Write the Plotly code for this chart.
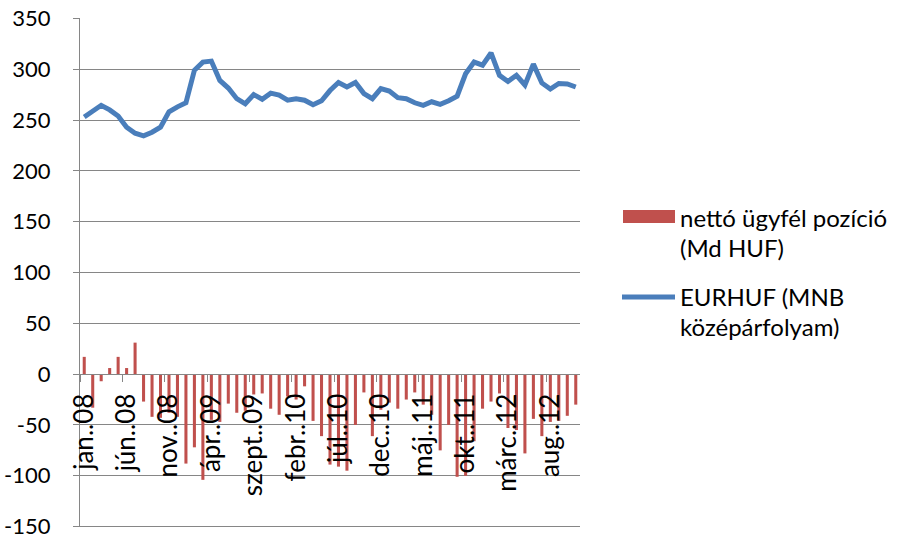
import plotly.graph_objects as go

# ---- data ----
month_abbr = ["jan.", "febr.", "márc.", "ápr.", "máj.", "jún.", "júl.", "aug.",
              "szept.", "okt.", "nov.", "dec."]
years = ["08", "09", "10", "11", "12"]
categories = [f"{m}.{y}" for y in years for m in month_abbr][:59]  # jan..08 .. nov..12

net_position = [17, -33, -7, 6, 17, 6, 31, -27, -42, -43,
                -38, -42, -88, -72, -104, -45, -47, -29, -38, -36,
                -20, -19, -34, -40, -22, -25, -12, -46, -61, -89,
                -91, -95, -50, -18, -61, -35, -28, -34, -25, -18,
                -30, -40, -75, -50, -101, -100, -66, -34, -27, -19,
                -53, -55, -78, -44, -61, -47, -46, -41, -30]

eurhuf = [253, 259, 264.5, 260, 254, 243, 237, 234.5, 238, 243,
          258, 263, 267, 299, 307, 308, 289, 281.5, 271, 266,
          275, 270.5, 276.5, 274.5, 269.5, 271, 269.5, 265, 269, 279,
          287, 282.5, 287, 276, 271, 281, 278.5, 272, 271, 267,
          264.5, 268, 265.5, 269, 273.5, 295.5, 307, 304, 316, 294,
          288, 294, 284.5, 305, 286.5, 280.5, 286, 285.5, 282.5]

y_tickvals = [-150, -100, -50, 0, 50, 100, 150, 200, 250, 300, 350]
y_ticktext = ["-150", "-100", "-50", "0", "50", "100", "150", "200", "250", "300", "350"]

bar_name = "nettó ügyfél pozíció (Md HUF)"
line_name = "EURHUF (MNB középárfolyam)"

# ---- style ----
FONT = "Lato, 'Open Sans', sans-serif"
FS_Y, FS_X, FS_LEG = 22, 26, 24
GRID = "#868686"
RED = "#C0504D"
BLUE = "#4A7EBB"

fig = go.Figure()
fig.add_trace(go.Bar(x=categories, y=net_position, name=bar_name,
                     marker=dict(color=RED, line=dict(width=0)), showlegend=False))
fig.add_trace(go.Scatter(x=categories, y=eurhuf, name=line_name, mode="lines",
                         line=dict(color=BLUE, width=5), showlegend=False))

W, H = 900, 538
Y_LO, Y_HI = -150.4, 350.4
# plot area pixel box chosen so that 350 sits at y=18 and -150 at y=527
pxu = (527 - 18) / 500.0
PT = 18 - (Y_HI - 350) * pxu
PB = 527 + (-150 - Y_LO) * pxu
PL, PR = 80, 580
L, R, T, B = PL, W - PR, PT, H - PB
pw, ph = PR - PL, PB - PT

fig.update_layout(
    width=W, height=H,
    margin=dict(l=L, r=R, t=T, b=B, pad=0, autoexpand=False),
    paper_bgcolor="white", plot_bgcolor="white",
    font=dict(family=FONT, size=FS_Y, color="#000000"),
    bargap=0.64,
    showlegend=False,
)

fig.update_yaxes(range=[Y_LO, Y_HI], tickvals=y_tickvals, ticktext=y_ticktext,
                 automargin=False, ticklabeloverflow="allow",
                 showgrid=True, gridcolor=GRID, gridwidth=1.3,
                 showline=True, linecolor=GRID, linewidth=1.3,
                 ticks="outside", ticklen=6, tickcolor=GRID, tickwidth=1.3,
                 ticklabelstandoff=18, zeroline=False,
                 tickfont=dict(family=FONT, size=FS_Y, color="#000"))

fig.update_xaxes(type="category", range=[-0.5, 58.5],
                 anchor="free", position=(0 - Y_LO) / (Y_HI - Y_LO), automargin=False,
                 showline=True, linecolor=GRID, linewidth=1.3,
                 showgrid=False, zeroline=False,
                 tickmode="linear", tick0=0, dtick=5, tickson="boundaries",
                 ticks="outside", ticklen=7, tickcolor=GRID, tickwidth=1.3,
                 tickangle=-90, ticklabelstandoff=8,
                 tickfont=dict(family=FONT, size=FS_X, color="#000"))

# bottom gridline (plotly drops it because the x axis counts as the bottom line)
fig.add_hline(y=y_tickvals[0], line=dict(color=GRID, width=1.3), layer="below")

def px_x(p):
    return (p - PL) / pw

def px_y(p):
    return (PB - p) / ph

# legend drawn manually
fig.add_shape(type="rect", xref="paper", yref="paper",
              x0=px_x(623), x1=px_x(675), y0=px_y(223), y1=px_y(210),
              fillcolor=RED, line=dict(width=0))
fig.add_shape(type="line", xref="paper", yref="paper",
              x0=px_x(622), x1=px_x(675), y0=px_y(297), y1=px_y(297),
              line=dict(color=BLUE, width=5))
legend_lines = [("nettó ügyfél pozíció", 217), ("(Md HUF)", 247),
                ("EURHUF (MNB", 297), ("középárfolyam)", 327)]
for txt, yy in legend_lines:
    fig.add_annotation(text=txt, xref="paper", yref="paper",
                       x=px_x(678), y=px_y(yy), xanchor="left", yanchor="middle",
                       showarrow=False, font=dict(family=FONT, size=FS_LEG, color="#000"))

# remove the browser's default 8px body margin so the figure fills the window
fig.write_html("out.html", config={"displayModeBar": False},
               post_script="document.body.style.margin='0px';document.body.style.overflow='hidden';")
